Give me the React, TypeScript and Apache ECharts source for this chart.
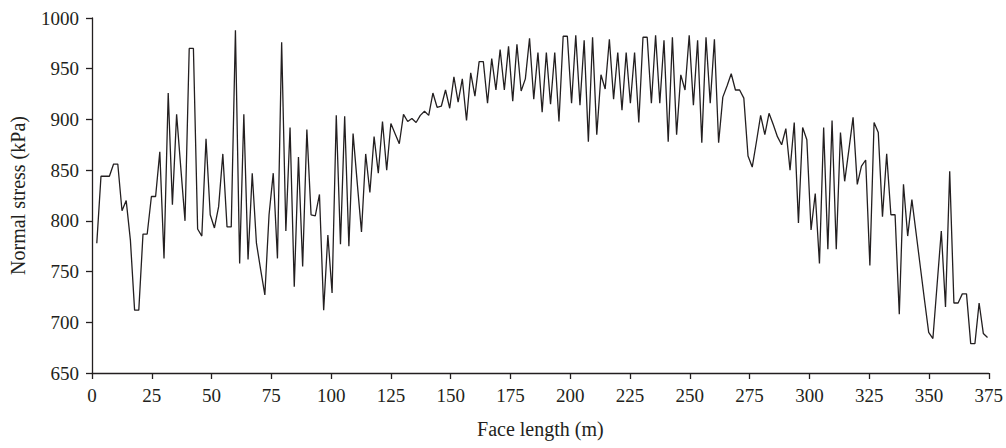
import React, { useEffect, useRef } from "react";
import * as echarts from "echarts";

// Normal stress (kPa) at each support along the face
const stress: number[] = [
  778, 844, 844, 844, 856, 856, 810, 820, 781, 712,
  712, 787, 787, 824, 824, 868, 763, 926, 816, 905,
  852, 800, 970, 970, 792, 785, 881, 806, 793, 814,
  866, 794, 794, 988, 758, 905, 762, 847, 778, 752,
  727, 806, 847, 763, 976, 790, 892, 735, 863, 755,
  890, 806, 805, 826, 712, 786, 729, 904, 777, 903,
  775, 886, 837, 789, 866, 828, 883, 847, 898, 850,
  896, 886, 876, 905, 898, 901, 897, 904, 908, 904,
  926, 912, 913, 929, 911, 942, 917, 940, 899, 946,
  923, 957, 957, 916, 960, 929, 969, 929, 972, 918,
  974, 928, 940, 980, 920, 966, 907, 966, 915, 966,
  898, 982, 982, 916, 983, 914, 978, 878, 981, 885,
  944, 930, 979, 920, 966, 909, 966, 916, 966, 897,
  981, 981, 916, 983, 916, 978, 878, 981, 885, 944,
  929, 983, 914, 978, 877, 981, 916, 979, 877, 922,
  933, 945, 929, 929, 921, 864, 853, 878, 904, 885,
  906, 895, 883, 875, 891, 850, 897, 798, 892, 880,
  791, 827, 758, 892, 772, 899, 772, 887, 839, 870,
  902, 836, 854, 860, 756, 897, 887, 804, 866, 806,
  806, 708, 836, 785, 821, 788, 755, 722, 690, 684,
  737, 790, 715, 849, 719, 719, 728, 728, 679, 679,
  719, 689, 685,
];

// support positions along the face (m): first support and support spacing
const firstSupport = 2;
const supportSpacing = 1.757;

const xTicks = { min: 0, max: 375, interval: 25 };
const yTicks = { min: 650, max: 1000, interval: 50 };

const xName = "Face length (m)";
const yName = "Normal stress (kPa)";

export default function App() {
  const ref = useRef<HTMLDivElement>(null);

  useEffect(() => {
    if (!ref.current) return;
    const chart = echarts.init(ref.current, undefined, { renderer: "svg" });
    const data = stress.map((v, i) => [firstSupport + i * supportSpacing, v]);
    const ink = "#231f20";
    const font = "'Liberation Serif', 'DejaVu Serif', serif";
    chart.setOption({
      animation: false,
      backgroundColor: "#ffffff",
      grid: { left: 92, right: 15, top: 18, bottom: 75 },
      xAxis: {
        type: "value",
        min: xTicks.min,
        max: xTicks.max,
        interval: xTicks.interval,
        name: xName,
        nameLocation: "middle",
        nameGap: 46,
        nameTextStyle: { color: ink, fontSize: 20, fontFamily: font },
        axisLine: { show: true, onZero: false, lineStyle: { color: ink, width: 1.3 } },
        axisTick: { show: true, length: 6, lineStyle: { color: ink, width: 1.3 } },
        axisLabel: {
          color: ink,
          fontSize: 19,
          fontFamily: font,
          margin: 13,
          formatter: (v: number) => String(v),
        },
        splitLine: { show: false },
      },
      yAxis: {
        type: "value",
        min: yTicks.min,
        max: yTicks.max,
        interval: yTicks.interval,
        name: yName,
        nameLocation: "middle",
        nameGap: 64,
        nameTextStyle: { color: ink, fontSize: 20, fontFamily: font },
        axisLine: { show: true, onZero: false, lineStyle: { color: ink, width: 1.3 } },
        axisTick: { show: true, length: 6, lineStyle: { color: ink, width: 1.3 } },
        axisLabel: {
          color: ink,
          fontSize: 19,
          fontFamily: font,
          margin: 13,
          formatter: (v: number) => String(v),
        },
        splitLine: { show: false },
      },
      series: [
        {
          type: "line",
          data,
          showSymbol: false,
          symbol: "none",
          lineStyle: { color: ink, width: 1.3 },
        },
      ],
    });
    return () => chart.dispose();
  }, []);

  return (
    <div
      ref={ref}
      style={{ position: "fixed", left: 0, top: 0, width: 1006, height: 448 }}
    />
  );
}
